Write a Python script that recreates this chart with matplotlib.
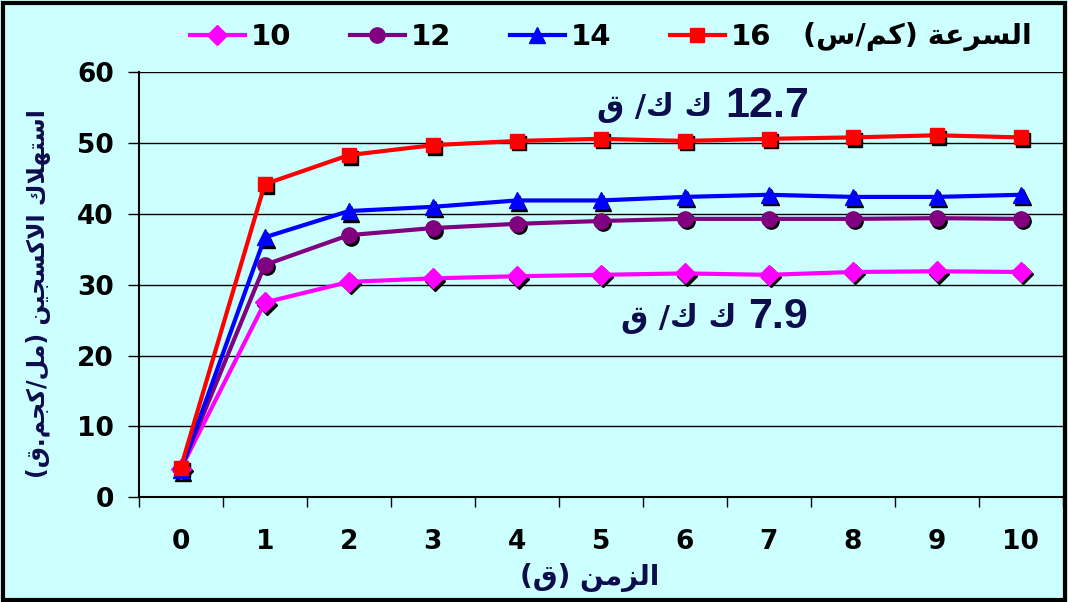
import matplotlib.pyplot as plt
import matplotlib.transforms as mtransforms
from matplotlib.patches import Rectangle

# time (min) and oxygen uptake for each running speed
minutes = [0, 1, 2, 3, 4, 5, 6, 7, 8, 9, 10]
speeds = ['10', '12', '14', '16']
vo2_10 = [4.0, 27.5, 30.4, 30.9, 31.2, 31.4, 31.6, 31.4, 31.8, 31.9, 31.8]
vo2_12 = [4.0, 32.8, 37.0, 38.0, 38.6, 39.0, 39.3, 39.3, 39.3, 39.4, 39.3]
vo2_14 = [3.8, 36.7, 40.4, 41.0, 41.9, 41.9, 42.4, 42.7, 42.4, 42.4, 42.7]
vo2_16 = [4.2, 44.2, 48.3, 49.7, 50.3, 50.6, 50.3, 50.6, 50.8, 51.1, 50.8]
energy_low = '7.9'
energy_high = '12.7'

series = [vo2_10, vo2_12, vo2_14, vo2_16]
colors = ['#FF00FF', '#800080', '#0000FF', '#FF0000']
markers = ['D', 'o', '^', 's']
msizes = [10, 11, 11, 10]

BG = '#CCFFFF'
NAVY = '#0D0D4D'

# minimal arabic shaping: (isolated, final, initial, medial)
FORMS = {
    'ا': (0xFE8D, 0xFE8E), 'ر': (0xFEAD, 0xFEAE), 'ز': (0xFEAF, 0xFEB0),
    'ة': (0xFE93, 0xFE94),
    'ل': (0xFEDD, 0xFEDE, 0xFEDF, 0xFEE0), 'س': (0xFEB1, 0xFEB2, 0xFEB3, 0xFEB4),
    'ع': (0xFEC9, 0xFECA, 0xFECB, 0xFECC), 'ك': (0xFED9, 0xFEDA, 0xFEDB, 0xFEDC),
    'م': (0xFEE1, 0xFEE2, 0xFEE3, 0xFEE4), 'ت': (0xFE95, 0xFE96, 0xFE97, 0xFE98),
    'ه': (0xFEE9, 0xFEEA, 0xFEEB, 0xFEEC), 'ج': (0xFE9D, 0xFE9E, 0xFE9F, 0xFEA0),
    'ي': (0xFEF1, 0xFEF2, 0xFEF3, 0xFEF4), 'ن': (0xFEE5, 0xFEE6, 0xFEE7, 0xFEE8),
    'ق': (0xFED5, 0xFED6, 0xFED7, 0xFED8),
}


def rtl(text):
    out = []
    i = 0
    n = len(text)
    while i < n:
        c = text[i]
        if c not in FORMS:
            out.append(c)
            i += 1
            continue
        prev = text[i - 1] if i > 0 else ''
        p = prev in FORMS and len(FORMS[prev]) == 4
        if c == 'ل' and i + 1 < n and text[i + 1] == 'ا':
            out.append(chr(0xFEFC if p else 0xFEFB))
            i += 2
            continue
        nxt = text[i + 1] if i + 1 < n else ''
        f = FORMS[c]
        q = len(f) == 4 and nxt in FORMS
        out.append(chr(f[(1 if p else 0) + (2 if q else 0)]))
        i += 1
    mirror = {'(': ')', ')': '('}
    return ''.join(mirror.get(c, c) for c in reversed(out))


plt.rcParams['font.family'] = ['DejaVu Sans']
plt.rcParams['font.weight'] = 'bold'

fig = plt.figure(figsize=(10.68, 6.02), dpi=100, facecolor=BG)
ax = fig.add_axes([0.130, 0.174, 0.865, 0.706])
ax.set_facecolor(BG)

shadow = mtransforms.offset_copy(ax.transData, fig=fig, x=2.5, y=-2.5, units='dots')
handles = []
for vals, col, mk, ms in zip(series, colors, markers, msizes):
    ax.plot(minutes, vals, linestyle='none', marker=mk, markersize=ms,
            color='black', transform=shadow, zorder=3)
    h, = ax.plot(minutes, vals, color=col, lw=3.0, marker=mk, markersize=ms,
                 markeredgecolor=col, zorder=4)
    handles.append(h)

ax.set_xlim(-0.5, 10.5)
ax.set_ylim(0, 60)
ax.set_yticks(range(0, 61, 10))
ax.yaxis.grid(True, color='black', lw=1.0)
ax.set_axisbelow(True)

# category axis: ticks between categories, labels at centres
ax.set_xticks([x - 0.5 for x in minutes] + [10.5])
ax.set_xticklabels([])
ax.set_xticks(minutes, minor=True)
ax.set_xticklabels([str(m) for m in minutes], minor=True)
ax.tick_params(axis='x', which='major', length=7, width=1, direction='out')
ax.tick_params(axis='x', which='minor', length=0, pad=23, labelsize=19)
ax.tick_params(axis='y', length=8, width=1, pad=10, labelsize=19)

for side in ['left', 'bottom']:
    ax.spines[side].set_linewidth(1.5)
ax.spines['top'].set_visible(False)
ax.spines['right'].set_color('#333333')

fig.text(0.036, 0.512, rtl('استهلاك الاكسجين (مل/كجم.ق)'), rotation=90,
         fontsize=17, color=NAVY, fontweight='bold', ha='center', va='center')
fig.text(0.552, 0.040, rtl('الزمن (ق)'), fontsize=20, color=NAVY,
         fontweight='bold', ha='center', va='center')

unit = rtl('ك ك/ ق')
num_font = ['Liberation Sans', 'DejaVu Sans']
ax.text(6.48, 55.2, energy_high, family=num_font, fontsize=31, color=NAVY,
        ha='left', va='center')
ax.text(6.33, 55.0, unit, fontsize=22, color=NAVY, ha='right', va='center',
        fontweight='bold')
ax.text(6.76, 25.4, energy_low, family=num_font, fontsize=31, color=NAVY,
        ha='left', va='center')
ax.text(6.61, 25.2, unit, fontsize=22, color=NAVY, ha='right', va='center',
        fontweight='bold')

fig.legend(handles, speeds, loc='center', bbox_to_anchor=(0.450, 0.939),
           ncol=4, frameon=False, fontsize=21, handlelength=1.9,
           columnspacing=2.0, handletextpad=0.2)
fig.text(0.859, 0.939, rtl('السرعة (كم/س)'), fontsize=20.5, fontweight='bold',
         color='black', ha='center', va='center')

# outer frame
fig.patches.append(Rectangle((0.003, 0.004), 0.994, 0.991, transform=fig.transFigure,
                             fill=False, ec='black', lw=3))

fig.savefig('out.png', dpi=100, facecolor=BG)
